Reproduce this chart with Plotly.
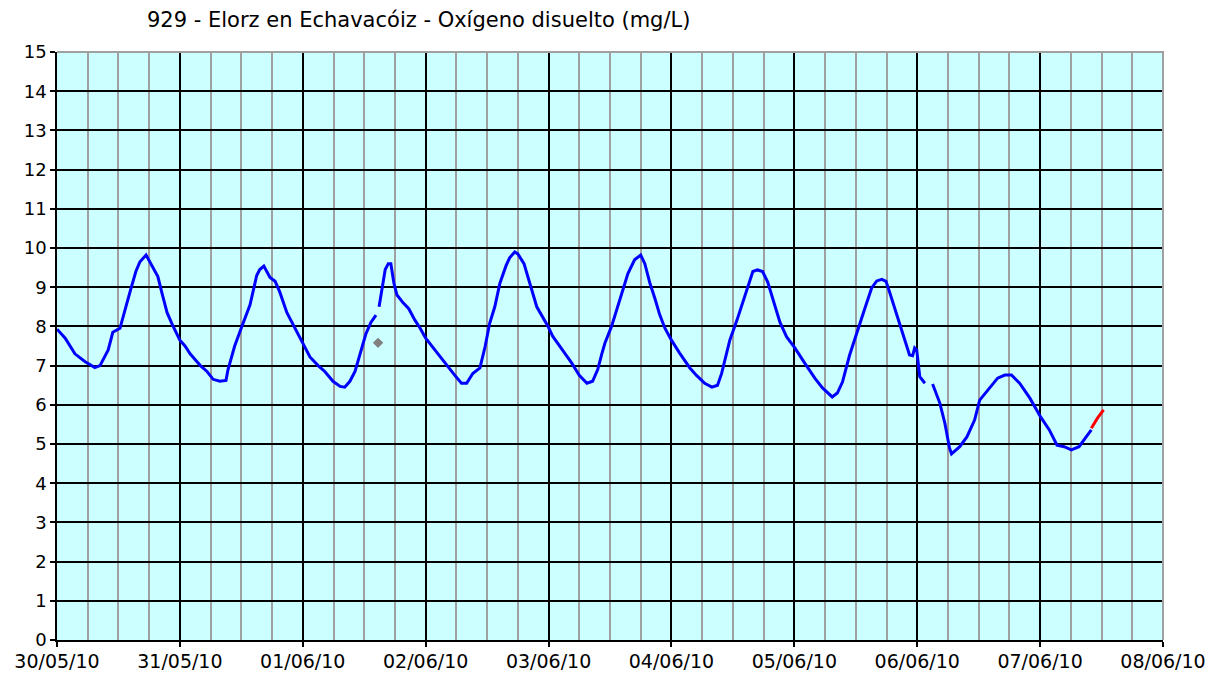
import pandas as pd
import plotly.graph_objects as go

# Hours since 30/05/10 00:00 and dissolved oxygen (mg/L); None = gap in record
blue_hours = [0, 1.6, 3.5, 5.5, 7.4, 8.4, 10, 10.9, 12.3, 13.1, 14.3, 15.4, 16.2, 17.4, 18.5, 19.7, 20.5, 21.5, 22.5,
              24, 25, 26, 27, 28, 29.3, 30.5, 31.8, 33, 33.4, 34.7, 36.1, 37.7, 39, 39.6, 40.4, 41.6, 42.6, 43.5, 44.9, 46.5,
              48, 49.4, 51, 52.3, 53.9, 55.3, 56.2, 57.2, 58.2, 59.2, 60.3, 61.3, 62.3, 62.6,
              62.9, 63.5, 64.1, 64.7, 65.2, 65.8, 66.4, 67.6, 68.7, 69.9, 70.9,
              72, 73.8, 76.1, 77.7, 79, 80, 81.2, 82.6, 83.6, 84.5, 85.5, 86.5, 87.7, 88.4, 89.4, 90, 91.2, 91.8, 92.5, 93.7, 95.9,
              96.8, 98.7, 100.5, 102, 103.5, 104.6, 105.6, 106.4, 107, 108.3, 109.9, 111.5, 112.8, 114, 114.8, 115.8, 116.8, 117.7, 118.7,
              120, 121.6, 123.6, 124.9, 126.5, 127.9, 129, 129.8, 130.4, 131.4, 132.8, 134.3, 135.3, 135.9, 136.8, 137.8, 138.8, 139.8, 141.2, 142.5,
              144.1, 146, 148, 149.5, 150.5, 151.4, 152.4, 153.4, 154.8, 156.2, 157.8, 159.1, 160.1, 161.1, 161.9, 162.6, 164, 165.2, 166.5, 167.1, 167.5, 167.9,
              168.1, 168.5, 169.5, 170.2, 171, 172.4, 173.4, 174.3, 174.7, 176.3, 177.7, 179.2, 180.2, 182.2, 183.7, 185.1, 186.4, 188, 190,
              192.1, 193.8, 195.3, 196.7, 198.1, 199.6, 201, 202]
blue_values = [7.93, 7.7, 7.3, 7.1, 6.95, 7.0, 7.4, 7.85, 7.95, 8.35, 8.9, 9.4, 9.65, 9.82, 9.55, 9.27, 8.85, 8.35, 8.05,
               7.65, 7.5, 7.3, 7.15, 7.0, 6.85, 6.65, 6.6, 6.62, 6.9, 7.5, 8.0, 8.55, 9.3, 9.45, 9.54, 9.25, 9.15, 8.88, 8.35, 7.95,
               7.55, 7.22, 7.0, 6.85, 6.6, 6.47, 6.45, 6.6, 6.85, 7.3, 7.8, 8.1, 8.29, None,
               8.5, 8.93, 9.45, 9.6, 9.6, 9.1, 8.8, 8.6, 8.45, 8.16, 7.96,
               7.7, 7.4, 7.0, 6.75, 6.55, 6.55, 6.8, 6.94, 7.48, 8.08, 8.5, 9.1, 9.55, 9.75, 9.9, 9.85, 9.6, 9.35, 9.0, 8.5, 8.0,
               7.75, 7.4, 7.07, 6.75, 6.55, 6.6, 6.9, 7.3, 7.57, 8.0, 8.67, 9.35, 9.7, 9.82, 9.6, 9.1, 8.7, 8.3, 7.96,
               7.65, 7.32, 6.94, 6.75, 6.55, 6.45, 6.5, 6.8, 7.14, 7.65, 8.16, 8.75, 9.18, 9.4, 9.44, 9.4, 9.13, 8.72, 8.1, 7.73,
               7.45, 7.07, 6.68, 6.43, 6.3, 6.2, 6.3, 6.58, 7.27, 7.86, 8.47, 8.98, 9.16, 9.2, 9.15, 8.88, 8.29, 7.83, 7.27, 7.25, 7.45, 7.4,
               7.15, 6.72, 6.55, None, 6.53, 6.05, 5.53, 4.9, 4.75, 4.93, 5.18, 5.61, 6.12, 6.45, 6.68, 6.76, 6.76, 6.55, 6.17,
               5.69, 5.36, 4.97, 4.93, 4.85, 4.93, 5.18, 5.36]

red_hours = [202, 203.2, 204.4]
red_values = [5.4, 5.66, 5.87]

gray_hours = [62.7]
gray_values = [7.58]

day_labels = ["30/05/10", "31/05/10", "01/06/10", "02/06/10", "03/06/10",
              "04/06/10", "05/06/10", "06/06/10", "07/06/10", "08/06/10"]

base = pd.Timestamp("2010-05-30 00:00")
to_t = lambda hs: [base + pd.Timedelta(hours=h) for h in hs]
day_ticks = [base + pd.Timedelta(days=i) for i in range(len(day_labels))]

fig = go.Figure()
fig.add_trace(go.Scatter(x=to_t(blue_hours), y=blue_values, mode="lines",
                         line=dict(color="#0000FF", width=3), connectgaps=False, showlegend=False))
fig.add_trace(go.Scatter(x=to_t(red_hours), y=red_values, mode="lines",
                         line=dict(color="#FF0000", width=3), showlegend=False))
fig.add_trace(go.Scatter(x=to_t(gray_hours), y=gray_values, mode="markers",
                         marker=dict(symbol="diamond", size=8, color="#808080"), showlegend=False))

# page body has an 8px default margin, so the figure is sized to fit inside it
fig.update_layout(
    width=1205, height=664,
    margin=dict(l=49, r=50, t=44, b=32, autoexpand=False),
    paper_bgcolor="white", plot_bgcolor="#CCFFFF",
    font=dict(family="DejaVu Sans", color="black"),
    annotations=[dict(text="929 - Elorz en Echavacóiz - Oxígeno disuelto (mg/L)",
                      xref="paper", yref="paper", x=(418 - 57) / 1106, y=1,
                      yshift=32, xanchor="center", yanchor="middle",
                      showarrow=False, font=dict(size=21, family="DejaVu Sans", color="black"))],
    shapes=[dict(type="path", xref="paper", yref="paper", path="M0,1 L1,1 L1,0",
                 line=dict(color="#A0A0A0", width=2), layer="above")],
)
fig.update_xaxes(
    range=[day_ticks[0], day_ticks[-1]], tickvals=day_ticks, ticktext=day_labels,
    ticks="outside", ticklen=5, tickcolor="black", tickwidth=1.5,
    showline=True, linecolor="black", linewidth=1.5,
    showgrid=True, gridcolor="black", gridwidth=1.5,
    minor=dict(dtick=6 * 3600 * 1000, showgrid=True, gridcolor="#A0A0A0", gridwidth=1.5),
    tickfont=dict(size=19), ticklabelstandoff=-2, zeroline=False, automargin=False,
)
fig.update_yaxes(
    range=[0, 15], dtick=1, tick0=0,
    ticks="outside", ticklen=5, tickcolor="black", tickwidth=1.5,
    showline=True, linecolor="black", linewidth=1.5,
    showgrid=True, gridcolor="black", gridwidth=1.5,
    tickfont=dict(size=18), zeroline=False, automargin=False,
)

fig.write_html("out.html")
